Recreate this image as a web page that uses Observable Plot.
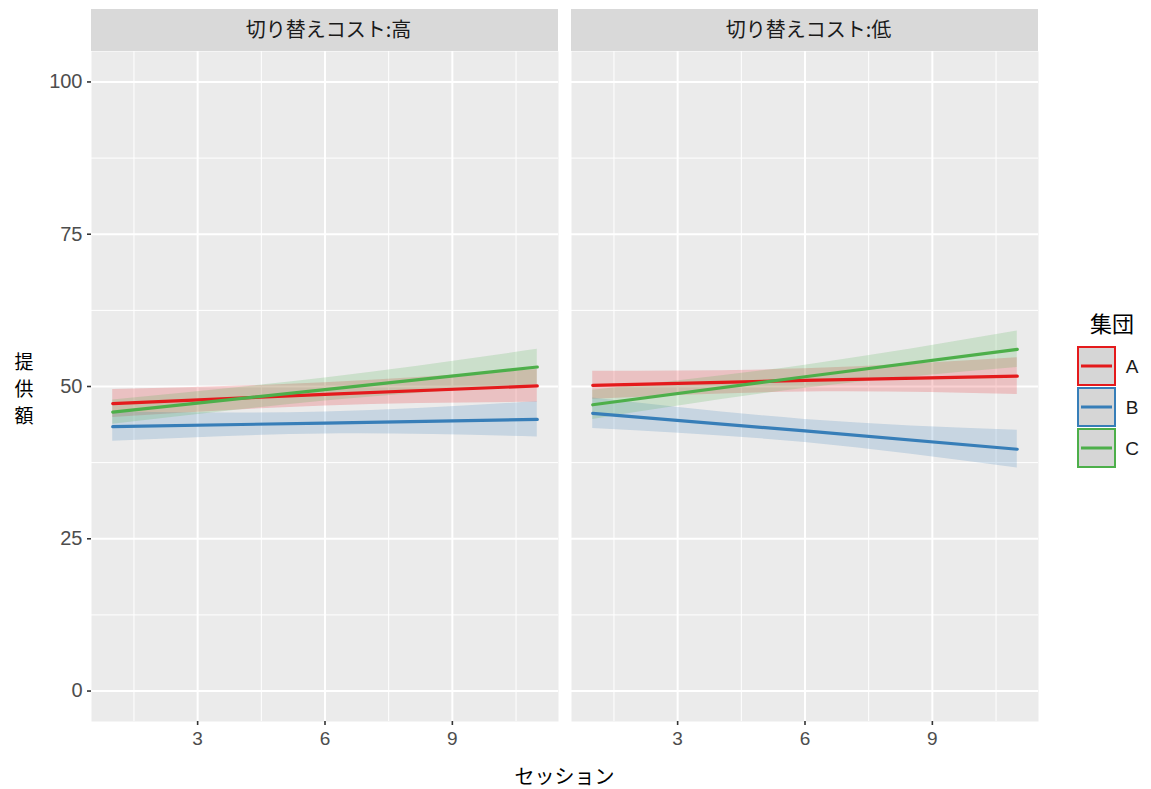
<!DOCTYPE html>
<html><head><meta charset="utf-8">
<script src="https://cdn.jsdelivr.net/npm/d3@7"></script>
<script src="https://cdn.jsdelivr.net/npm/@observablehq/plot@0.6"></script>
<style>
body{margin:0;background:#fff;}
#chart{position:relative;width:1151px;height:789px;}
</style></head><body><div id="chart"></div>
<script>
// ---- data ----
const panels = ["切り替えコスト:高", "切り替えコスト:低"];
const groups = ["A", "B", "C"];
const sessions = [1, 6, 11];
const xTicks = [3, 6, 9];
const xMinor = [1.5, 4.5, 7.5, 10.5];
const yTicks = [0, 25, 50, 75, 100];
const yMinor = [12.5, 37.5, 62.5, 87.5];
// per group (A,B,C), values at sessions 1, 6, 11
const fitHigh = [[47.2, 48.7, 50.1], [43.4, 44.0, 44.6], [45.8, 49.5, 53.2]];
const loHigh  = [[44.9, 46.8, 47.4], [41.0, 42.2, 41.7], [43.8, 47.6, 50.3]];
const hiHigh  = [[49.5, 50.6, 52.8], [45.8, 45.8, 47.5], [47.8, 51.4, 56.1]];
const fitLow  = [[50.2, 51.0, 51.7], [45.6, 42.7, 39.7], [47.0, 51.6, 56.1]];
const loLow   = [[47.9, 49.1, 48.7], [43.1, 40.8, 36.6], [44.6, 49.7, 53.1]];
const hiLow   = [[52.5, 52.9, 54.7], [48.1, 44.6, 42.8], [49.4, 53.5, 59.1]];
const colors = ["#E41A1C", "#377EB8", "#4DAF4A"];
const legendTitle = "集団";
const xTitle = "セッション";
const yTitle = "提供額";

const rows = [];
panels.forEach((p, pi) => {
  const fit = pi === 0 ? fitHigh : fitLow;
  const lo = pi === 0 ? loHigh : loLow;
  const hi = pi === 0 ? hiHigh : hiLow;
  groups.forEach((g, gi) => sessions.forEach((s, si) => rows.push({
    panel: p, group: g, session: s, fit: fit[gi][si], lo: lo[gi][si], hi: hi[gi][si]
  })));
});

const latin = "'Liberation Sans', Arial, 'Noto Sans CJK JP', sans-serif";
const cjk = "'Noto Sans CJK JP', 'Liberation Sans', sans-serif";

const chart = Plot.plot({
  width: 1151, height: 789,
  marginLeft: 91, marginRight: 113, marginTop: 51, marginBottom: 68,
  style: {fontFamily: latin, background: "white", overflow: "visible"},
  fx: {domain: panels, paddingInner: 13 / 480, paddingOuter: 0, axis: null, label: null},
  x: {domain: [0.5, 11.5], axis: null},
  y: {domain: [-5, 105], axis: null},
  color: {domain: groups, range: colors},
  marks: [
    Plot.frame({fill: "#EBEBEB", stroke: null}),
    Plot.gridX(xMinor, {stroke: "white", strokeOpacity: 1, strokeWidth: 1}),
    Plot.gridY(yMinor, {stroke: "white", strokeOpacity: 1, strokeWidth: 1}),
    Plot.gridX(xTicks, {stroke: "white", strokeOpacity: 1, strokeWidth: 2}),
    Plot.gridY(yTicks, {stroke: "white", strokeOpacity: 1, strokeWidth: 2}),
    Plot.areaY(rows, {fx: "panel", x: "session", y1: "lo", y2: "hi", z: "group", fill: "group", fillOpacity: 0.2, curve: "natural"}),
    Plot.line(rows, {fx: "panel", x: "session", y: "fit", z: "group", stroke: "group", strokeWidth: 3.2}),
    Plot.axisX(xTicks, {anchor: "bottom", label: null, tickSize: 4, tickPadding: 6, fontSize: 19, fill: "#4D4D4D", stroke: "#333333", strokeWidth: 1.6}),
    Plot.axisY(yTicks, {anchor: "left", label: null, tickSize: 4, tickPadding: 5, fontSize: 20, fill: "#4D4D4D", stroke: "#333333", strokeWidth: 1.6})
  ]
});
document.getElementById("chart").appendChild(chart);

// ---- facet strips, titles, legend ----
const svg = d3.select(chart);
const fxs = chart.scale("fx");
const bw = fxs.bandwidth;
panels.forEach(p => {
  const x0 = fxs.apply(p);
  svg.insert("rect", ":first-child").attr("x", x0).attr("y", 9).attr("width", bw).attr("height", 42).attr("fill", "#D9D9D9");
  svg.append("text").attr("x", x0 + bw / 2 + 4).attr("y", 30).attr("dy", "0.36em")
    .attr("text-anchor", "middle").attr("font-family", cjk).attr("font-size", 20).attr("fill", "#1A1A1A").text(p);
});

const plotLeft = fxs.apply(panels[0]);
const plotRight = fxs.apply(panels[panels.length - 1]) + bw;
svg.append("text").attr("x", (plotLeft + plotRight) / 2).attr("y", 777).attr("dy", "0.36em")
  .attr("text-anchor", "middle").attr("font-family", cjk).attr("font-size", 20).attr("fill", "#000").text(xTitle);

const yt = svg.append("text").attr("font-family", cjk).attr("font-size", 19).attr("fill", "#000").attr("text-anchor", "middle");
Array.from(yTitle).forEach((ch, i) => {
  yt.append("tspan").attr("x", 24).attr("y", 362 + i * 27).attr("dy", "0.36em").text(ch);
});

const lg = svg.append("g");
lg.append("text").attr("x", 1112).attr("y", 324).attr("dy", "0.36em").attr("text-anchor", "middle")
  .attr("font-family", cjk).attr("font-size", 22).attr("fill", "#000").text(legendTitle);
groups.forEach((g, i) => {
  const y0 = 347 + i * 41;
  lg.append("rect").attr("x", 1078).attr("y", y0).attr("width", 37).attr("height", 38)
    .attr("fill", "#D6D6D6").attr("stroke", colors[i]).attr("stroke-width", 2);
  lg.append("line").attr("x1", 1081).attr("x2", 1112).attr("y1", y0 + 19).attr("y2", y0 + 19)
    .attr("stroke", colors[i]).attr("stroke-width", 3);
  lg.append("text").attr("x", 1132).attr("y", y0 + 19).attr("dy", "0.36em").attr("font-family", latin)
    .attr("font-size", 19).attr("fill", "#1A1A1A").text(g);
});
</script></body></html>
